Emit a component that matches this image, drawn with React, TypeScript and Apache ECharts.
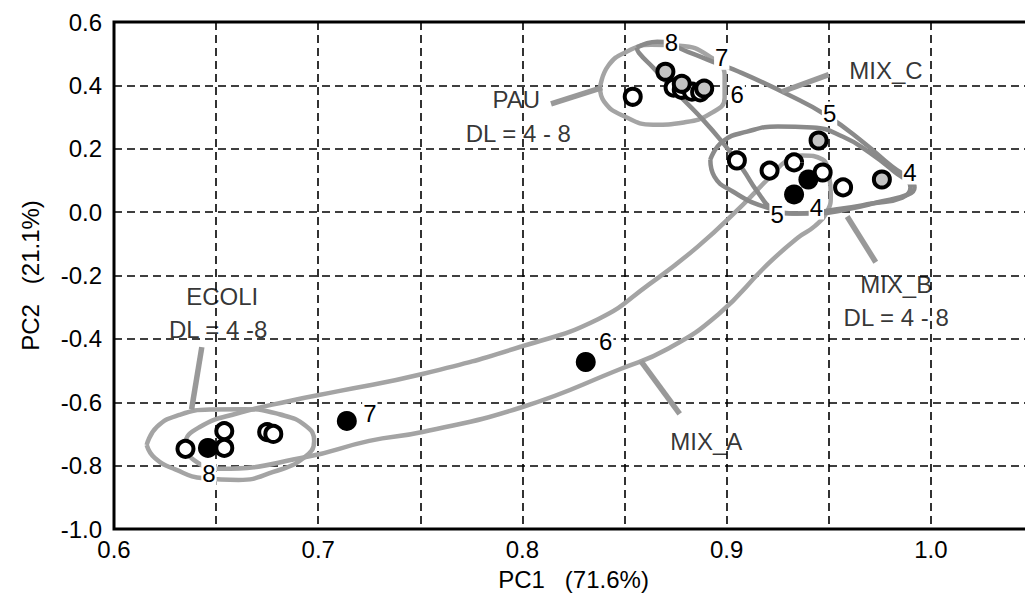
import React, { useEffect, useRef } from "react";
import * as echarts from "echarts";

// ---- data (PC1, PC2) ----
const ecoliPoints = [[0.635, -0.747], [0.654, -0.691], [0.654, -0.744], [0.675, -0.694], [0.678, -0.7]];
const pauPoints = [[0.854, 0.364], [0.874, 0.393], [0.878, 0.386], [0.883, 0.38], [0.887, 0.378]];
const mixBPoints = [[0.905, 0.163], [0.921, 0.131], [0.933, 0.157], [0.947, 0.125], [0.957, 0.078]];
const mixCPoints = [[0.87, 0.443], [0.878, 0.405], [0.889, 0.39], [0.945, 0.226], [0.976, 0.103]];
const mixCLabels = ["8", "7", "6", "5", "4"];
const mixAPoints = [[0.646, -0.744], [0.714, -0.659], [0.831, -0.473], [0.933, 0.056], [0.94, 0.103]];
const mixALabels = ["8", "7", "6", "5", "4"];

// ---- annotation outlines (data coordinates) ----
const ecoliOutline = [
  [0.616, -0.735], [0.621, -0.678], [0.632, -0.64], [0.647, -0.623], [0.664, -0.622], [0.681, -0.638],
  [0.694, -0.675], [0.698, -0.722], [0.693, -0.775], [0.678, -0.82], [0.661, -0.845], [0.644, -0.84],
  [0.63, -0.812], [0.62, -0.776], [0.616, -0.735],
];
const pauOutline = [
  [0.838, 0.393], [0.842, 0.462], [0.851, 0.506], [0.863, 0.528], [0.877, 0.525], [0.891, 0.494],
  [0.899, 0.431], [0.899, 0.361], [0.892, 0.311], [0.879, 0.283], [0.864, 0.276], [0.849, 0.305],
  [0.84, 0.349], [0.838, 0.393],
];
const mixCOutline = [
  [0.856, 0.519], [0.866, 0.538], [0.881, 0.506], [0.893, 0.475], [0.906, 0.443], [0.93, 0.371],
  [0.949, 0.305], [0.967, 0.22], [0.981, 0.144], [0.99, 0.103], [0.992, 0.078], [0.989, 0.056],
  [0.974, 0.031], [0.959, 0.009], [0.945, -0.004], [0.932, -0.004], [0.923, 0.009], [0.915, 0.065],
  [0.908, 0.134], [0.898, 0.22], [0.886, 0.308], [0.875, 0.38], [0.864, 0.456], [0.857, 0.503],
  [0.856, 0.519],
];
const mixBOutline = [
  [0.892, 0.166], [0.898, 0.223], [0.91, 0.254], [0.925, 0.27], [0.942, 0.267], [0.957, 0.238],
  [0.97, 0.188], [0.982, 0.128], [0.99, 0.078], [0.986, 0.046], [0.971, 0.027], [0.954, 0.009],
  [0.935, -0.004], [0.918, 0.018], [0.903, 0.065], [0.894, 0.112], [0.892, 0.166],
];
const mixAOutline = [
  [0.95, 0.119], [0.947, 0.166], [0.937, 0.179], [0.93, 0.166], [0.92, 0.103], [0.908, 0.024],
  [0.886, -0.108], [0.862, -0.228], [0.837, -0.338], [0.8, -0.423], [0.751, -0.511], [0.71, -0.565],
  [0.686, -0.596], [0.661, -0.634], [0.642, -0.678], [0.635, -0.732], [0.639, -0.782], [0.652, -0.81],
  [0.694, -0.773], [0.725, -0.722], [0.751, -0.694], [0.8, -0.615], [0.848, -0.495], [0.871, -0.432],
  [0.896, -0.322], [0.92, -0.165], [0.935, -0.08], [0.943, -0.045], [0.949, -0.001], [0.951, 0.056],
  [0.95, 0.119],
];
const leaderLines = [
  [[0.814, 0.342], [0.839, 0.393]],
  [[0.95, 0.434], [0.927, 0.38]],
  [[0.959, -0.014], [0.973, -0.158]],
  [[0.858, -0.47], [0.877, -0.637]],
  [[0.643, -0.426], [0.638, -0.622]],
];
const noteTexts = ["PAU", "DL = 4 - 8", "MIX_C", "MIX_B", "DL = 4 - 8", "ECOLI", "DL = 4 -8", "MIX_A"];
const noteAnchors = [
  [0.797, 0.355], [0.798, 0.248], [0.978, 0.446], [0.983, -0.228], [0.983, -0.332],
  [0.653, -0.266], [0.651, -0.369], [0.89, -0.725],
];

// label offsets in pixels (layout only)
const mixCLabelOffsets = [[6, -29], [40, -26], [33, 6], [11, -27], [28, -7]];
const mixALabelOffsets = [[1, 26], [23, -7], [20, -21], [-17, 20], [8, 28]];

const FONT = "'Liberation Sans', Arial, Helvetica, sans-serif";

export default function App() {
  const ref = useRef<HTMLDivElement>(null);
  useEffect(() => {
    document.body.style.overflow = "hidden";
    const chart = echarts.init(ref.current as HTMLDivElement, null, { renderer: "svg" });
    const outline = (data: number[][], color: string, width = 4.5) => ({
      type: "line",
      data,
      smooth: 0.5,
      symbol: "none",
      silent: true,
      z: 2,
      lineStyle: { color, width },
    });
    const numLabel = {
      show: true,
      position: "inside",
      fontSize: 24,
      fontFamily: FONT,
      color: "#000",
      backgroundColor: "#fff",
      padding: [0, 1],
    };
    const option: any = {
      animation: false,
      backgroundColor: "#fff",
      grid: {
        left: 114,
        right: 0,
        top: 22,
        bottom: 74,
        show: true,
        borderColor: "#000",
        borderWidth: 3,
      },
      xAxis: {
        type: "value",
        min: 0.6,
        max: 1.05,
        interval: 0.05,
        axisLine: { show: false },
        axisTick: { show: false },
        splitLine: { show: true, lineStyle: { color: "#000", width: 1.6, type: [8, 5] } },
        axisLabel: {
          formatter: (v: number) => (Math.round(v * 20) % 2 === 0 ? v.toFixed(1) : ""),
          fontSize: 24,
          color: "#000",
          fontFamily: FONT,
          margin: 8,
        },
        name: "PC1   (71.6%)",
        nameLocation: "middle",
        nameGap: 38,
        nameTextStyle: { fontSize: 24, color: "#000", fontFamily: FONT },
      },
      yAxis: {
        type: "value",
        min: -1,
        max: 0.6,
        interval: 0.2,
        axisLine: { show: false },
        axisTick: { show: false },
        splitLine: { show: true, lineStyle: { color: "#000", width: 1.6, type: [8, 5] } },
        axisLabel: {
          formatter: (v: number) => (Math.abs(v) < 1e-9 ? 0 : v).toFixed(1),
          fontSize: 24,
          color: "#000",
          fontFamily: FONT,
          margin: 12,
        },
        name: "PC2   (21.1%)",
        nameLocation: "middle",
        nameGap: 72,
        nameTextStyle: { fontSize: 24, color: "#000", fontFamily: FONT },
      },
      series: [
        outline(ecoliOutline, "#a4a4a4"),
        outline(mixAOutline, "#a4a4a4"),
        outline(pauOutline, "#a4a4a4"),
        outline(mixBOutline, "#8a8a8a"),
        outline(mixCOutline, "#8a8a8a"),
        ...leaderLines.map((l) => ({ ...outline(l, "#999999", 5.5), smooth: false })),
        {
          type: "scatter",
          name: "open",
          z: 3,
          data: [...ecoliPoints, ...pauPoints, ...mixBPoints],
          symbol: "circle",
          symbolSize: 16,
          itemStyle: { color: "#fff", borderColor: "#000", borderWidth: 4, opacity: 1 },
          silent: true,
        },
        {
          type: "scatter",
          name: "MIX_C",
          z: 4,
          data: mixCPoints.map((p, i) => ({
            value: p,
            name: mixCLabels[i],
            label: { offset: mixCLabelOffsets[i] },
          })),
          symbol: "circle",
          symbolSize: 16,
          itemStyle: { color: "#c4c4c4", borderColor: "#000", borderWidth: 4, opacity: 1 },
          label: { ...numLabel, formatter: "{b}" },
          silent: true,
        },
        {
          type: "scatter",
          name: "MIX_A",
          z: 5,
          data: mixAPoints.map((p, i) => ({
            value: p,
            name: mixALabels[i],
            label: { offset: mixALabelOffsets[i] },
          })),
          symbol: "circle",
          symbolSize: 20,
          itemStyle: { color: "#000", opacity: 1 },
          label: { ...numLabel, formatter: "{b}" },
          silent: true,
        },
        {
          type: "scatter",
          name: "notes",
          z: 6,
          data: noteAnchors.map((p, i) => ({ value: p, name: noteTexts[i] })),
          symbolSize: 1,
          itemStyle: { color: "rgba(0,0,0,0)" },
          label: {
            show: true,
            position: "inside",
            formatter: "{b}",
            fontSize: 24,
            fontFamily: FONT,
            color: "#000",
          },
          silent: true,
        },
      ],
    };
    chart.setOption(option);
    return () => chart.dispose();
  }, []);
  return (
    <div
      ref={ref}
      style={{ position: "fixed", left: 0, top: 0, width: 1036, height: 603, background: "#fff" }}
    />
  );
}
